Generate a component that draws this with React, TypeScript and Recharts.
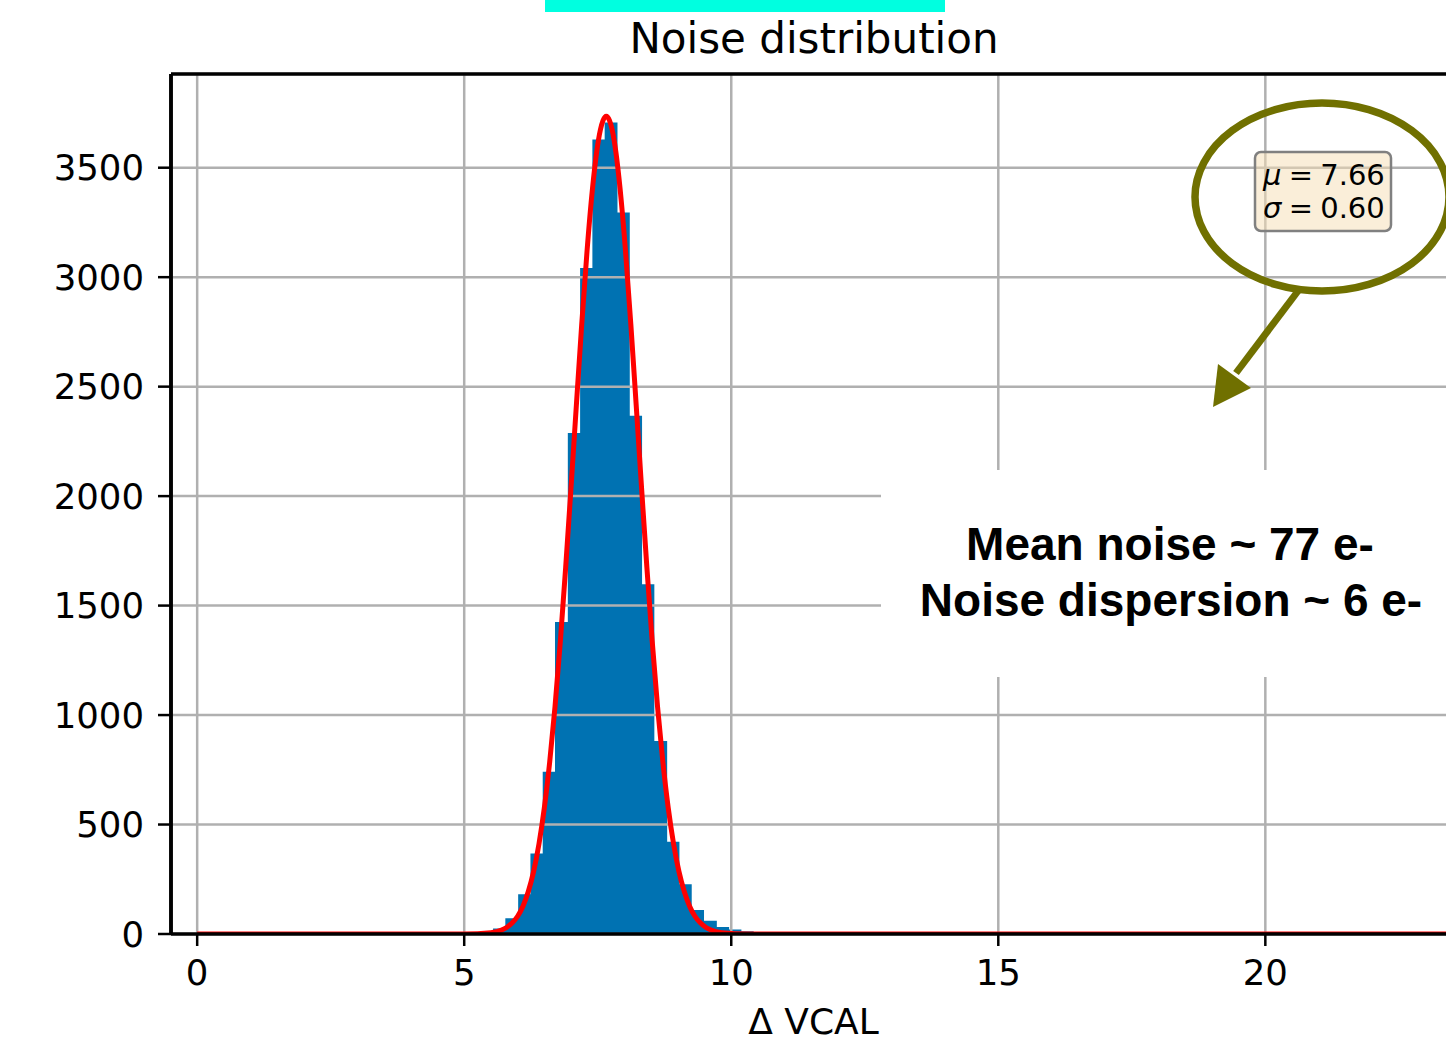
import React from 'react';
import { ComposedChart, Area, Line, XAxis, YAxis, CartesianGrid, ReferenceLine } from 'recharts';

// Histogram of ΔVCAL noise per pixel: left edge of each bin and its count
const binLeftEdges = [
  5.31, 5.54, 5.77, 6.01, 6.24, 6.47, 6.7, 6.94, 7.17, 7.4, 7.63, 7.87,
  8.1, 8.33, 8.56, 8.8, 9.03, 9.26, 9.49, 9.73, 9.96, 10.19, 10.42,
];
const binCounts = [
  5, 25, 72, 181, 368, 741, 1425, 2288, 3042, 3629, 3706, 3295,
  2367, 1598, 881, 421, 227, 110, 61, 32, 21, 12, 5,
];
const lastBinRightEdge = 10.66;

// Gaussian fit overlay, sampled along ΔVCAL
const fitX = [
  0, 4.5, 5.0, 5.5, 5.7, 5.8, 5.9, 6.0, 6.1, 6.2, 6.3, 6.4, 6.5, 6.6, 6.7, 6.8,
  6.9, 7.0, 7.1, 7.2, 7.3, 7.4, 7.48, 7.55, 7.6, 7.66, 7.72, 7.77, 7.84, 7.92,
  8.02, 8.12, 8.22, 8.32, 8.42, 8.52, 8.62, 8.72, 8.82, 8.92, 9.02, 9.12, 9.22,
  9.32, 9.42, 9.52, 9.62, 9.82, 10.32, 11.0, 23.5,
];
const fitY = [
  0, 0, 0, 6, 18, 31, 51, 81, 127, 194, 286, 412, 576, 784, 1038, 1337,
  1675, 2040, 2416, 2784, 3120, 3400, 3571, 3673, 3716, 3735, 3716, 3673, 3571, 3400,
  3120, 2784, 2416, 2040, 1675, 1337, 1038, 784, 576, 412, 286, 194, 127,
  81, 51, 31, 18, 6, 0, 0, 0,
];

const fitMu = 7.66;
const fitSigma = 0.6;

const xDomain = [-0.49, 23.57];
const yDomain = [0, 3928];
const xTicks = [0, 5, 10, 15, 20];
const yTicks = [0, 500, 1000, 1500, 2000, 2500, 3000, 3500];

const histData = [
  ...binLeftEdges.map((x, i) => ({ x, count: binCounts[i] })),
  { x: lastBinRightEdge, count: binCounts[binCounts.length - 1] },
];
const fitData = fitX.map((x, i) => ({ x, fit: fitY[i] }));

const tickStyle = { fill: '#000', fontSize: 35.5, fontFamily: 'DejaVu Sans' };
const spine = { stroke: '#000', strokeWidth: 3.5 };
const SP = '\u2005';

export default function App() {
  return (
    <div
      style={{
        position: 'fixed',
        left: 0,
        top: 0,
        width: 1446,
        height: 1041,
        overflow: 'hidden',
        background: '#fff',
      }}
    >
      <ComposedChart
        width={1470}
        height={1041}
        margin={{ top: 74, right: 14, bottom: 0, left: 0 }}
      >
        <XAxis
          xAxisId="main"
          dataKey="x"
          type="number"
          domain={xDomain}
          allowDataOverflow
          ticks={xTicks}
          height={107}
          tickSize={12}
          tickMargin={14}
          tick={tickStyle}
          axisLine={spine}
          tickLine={{ stroke: '#000', strokeWidth: 2.5 }}
          label={{
            value: 'Δ VCAL',
            position: 'insideBottom',
            offset: 7,
            fill: '#000',
            fontSize: 36,
            fontFamily: 'DejaVu Sans',
          }}
        />
        <YAxis
          yAxisId="main"
          type="number"
          domain={yDomain}
          allowDataOverflow
          ticks={yTicks}
          width={171}
          tickSize={13}
          tickMargin={14}
          tick={tickStyle}
          axisLine={spine}
          tickLine={{ stroke: '#000', strokeWidth: 2.5 }}
        />
        <Area
          xAxisId="main"
          yAxisId="main"
          data={histData}
          dataKey="count"
          type="stepAfter"
          fill="#0072B2"
          fillOpacity={1}
          stroke="none"
          isAnimationActive={false}
          dot={false}
          activeDot={false}
        />
        <CartesianGrid
          xAxisId="main"
          yAxisId="main"
          stroke="#b0b0b0"
          strokeWidth={2.5}
          fill="none"
          zIndex={150}
        />
        <Line
          xAxisId="main"
          yAxisId="main"
          data={fitData}
          dataKey="fit"
          type="monotone"
          stroke="#ff0000"
          strokeWidth={5}
          dot={false}
          activeDot={false}
          isAnimationActive={false}
        />
        {/* axes frame: top and left spines */}
        <ReferenceLine
          xAxisId="main"
          yAxisId="main"
          y={yDomain[1]}
          stroke="#000"
          strokeWidth={3.5}
          ifOverflow="visible"
        />
        <ReferenceLine
          xAxisId="main"
          yAxisId="main"
          x={xDomain[0]}
          stroke="#000"
          strokeWidth={3.5}
          ifOverflow="visible"
        />
      </ComposedChart>

      <svg
        width={1446}
        height={1041}
        style={{ position: 'absolute', left: 0, top: 0, pointerEvents: 'none' }}
      >
        <rect x={545} y={0} width={400} height={12} fill="#00FFE0" />
        <text
          x={814}
          y={53}
          textAnchor="middle"
          fontSize={42}
          fontFamily="DejaVu Sans"
          fill="#000"
        >
          Noise distribution
        </text>

        <rect x={881} y={470} width={600} height={207} fill="#fff" />
        <text
          x={1170}
          y={560}
          textAnchor="middle"
          fontSize={46}
          fontWeight="bold"
          fontFamily="Liberation Sans"
          fill="#000"
        >
          Mean noise ~ 77 e-
        </text>
        <text
          x={1171}
          y={616}
          textAnchor="middle"
          fontSize={46}
          fontWeight="bold"
          fontFamily="Liberation Sans"
          fill="#000"
        >
          Noise dispersion ~ 6 e-
        </text>

        <ellipse
          cx={1322}
          cy={197}
          rx={127}
          ry={94}
          fill="none"
          stroke="#707000"
          strokeWidth={7.5}
        />
        <line x1={1298} y1={291} x2={1236} y2={373} stroke="#707000" strokeWidth={7} />
        <polygon points="1213,407 1251,388 1218,364" fill="#707000" />

        <rect
          x={1255}
          y={152}
          width={136}
          height={79}
          rx={6}
          fill="#F5DEB3"
          fillOpacity={0.5}
          stroke="#808080"
          strokeWidth={2.5}
        />
        <text x={1263} y={185} fontSize={29} fontFamily="DejaVu Sans" fill="#000">
          <tspan fontStyle="italic">μ</tspan>
          {`${SP}=${SP}${fitMu.toFixed(2)}`}
        </text>
        <text x={1263} y={218} fontSize={29} fontFamily="DejaVu Sans" fill="#000">
          <tspan fontStyle="italic">σ</tspan>
          {`${SP}=${SP}${fitSigma.toFixed(2)}`}
        </text>
      </svg>
    </div>
  );
}
